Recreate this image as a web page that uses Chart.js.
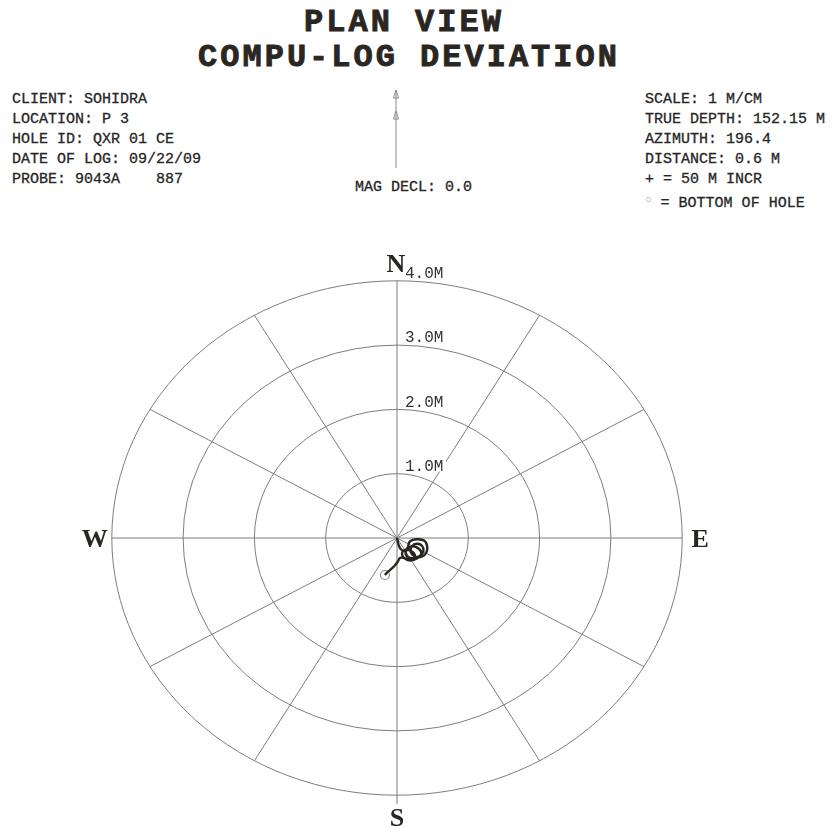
<!DOCTYPE html>
<html>
<head>
<meta charset="utf-8">
<script src="https://cdn.jsdelivr.net/npm/chart.js@4.4.1/dist/chart.umd.min.js"></script>
<style>
  body { margin: 0; background: #fff; width: 834px; height: 827px; overflow: hidden; position: relative; }
  #plan { position: absolute; left: 0; top: 0; }
  .txt { position: absolute; font-family: 'Courier New', 'Liberation Mono', monospace; color: #262626; white-space: pre; }
  .title { font-weight: bold; font-size: 32px; letter-spacing: 3px; color: #2a2622; -webkit-text-stroke: 0.9px #2a2622; left: 0; width: 834px; text-align: center; line-height: 36px; }
  .info { font-size: 15px; line-height: 20px; -webkit-text-stroke: 0.3px #262626; }
  .boh { color: #999; font-size: 11px; vertical-align: 4px; -webkit-text-stroke: 0; }
</style>
</head>
<body>
<div class="txt title" style="top:5px; left:-13px;">PLAN VIEW</div>
<div class="txt title" style="top:40px; left:-8px;">COMPU-LOG DEVIATION</div>

<div class="txt info" style="left:12px; top:90px;">CLIENT: SOHIDRA
LOCATION: P 3
HOLE ID: QXR 01 CE
DATE OF LOG: 09/22/09
PROBE: 9043A    887</div>

<div class="txt info" style="left:355px; top:178px;">MAG DECL: 0.0</div>

<div class="txt info" style="left:645px; top:90px;">SCALE: 1 M/CM
TRUE DEPTH: 152.15 M
AZIMUTH: 196.4
DISTANCE: 0.6 M
+ = 50 M INCR
<span class="boh">○</span> = BOTTOM OF HOLE</div>

<canvas id="plan" width="834" height="827"></canvas>
<script>
// rings (metres) and their labels
var ringValues = [1, 2, 3, 4];
var ringLabels = ['1.0M', '2.0M', '3.0M', '4.0M'];
// radial lines every 30 degrees
var spokeAngles = [0, 30, 60, 90, 120, 150, 180, 210, 240, 270, 300, 330];
var compassLetters = ['N', 'E', 'S', 'W'];
var compassAngles = [0, 90, 180, 270];

// hole trace, metres east / north of the collar
var traceEast  = [0, 0.01, 0.02, 0.05, 0.10, 0.15, 0.17, 0.22, 0.30, 0.38, 0.42, 0.42, 0.38, 0.31, 0.24, 0.19, 0.21, 0.28, 0.35, 0.37, 0.33, 0.25, 0.16, 0.12, 0.15, 0.23, 0.31, 0.34, 0.28, 0.19, 0.11, 0.07, 0.10, 0.17, 0.24, 0.25, 0.18, 0.09, 0.04, 0.01, -0.04, -0.10, -0.15];
var traceNorth = [0, -0.05, -0.10, -0.17, -0.20, -0.15, -0.07, -0.03, -0.02, -0.04, -0.11, -0.20, -0.27, -0.30, -0.28, -0.21, -0.13, -0.09, -0.12, -0.20, -0.27, -0.31, -0.30, -0.23, -0.16, -0.13, -0.17, -0.25, -0.32, -0.35, -0.32, -0.25, -0.19, -0.19, -0.24, -0.31, -0.34, -0.31, -0.31, -0.37, -0.44, -0.50, -0.55];

// bottom of hole from the header values
var bohDistance = 0.6;
var bohAzimuth = 196.4;
var bohEast = bohDistance * Math.sin(bohAzimuth * Math.PI / 180);
var bohNorth = bohDistance * Math.cos(bohAzimuth * Math.PI / 180);

var tracePts = traceEast.map(function (e, i) { return { x: e, y: traceNorth[i] }; });
tracePts.push({ x: bohEast, y: bohNorth });

var gridColor = '#7d7d7d';
var monoFont = "'Courier New', 'Liberation Mono', monospace";

// polar grid, labels and north arrow, drawn under the trace
var planGrid = {
    id: 'planGrid',
    beforeDatasetsDraw: function (chart) {
        var ctx = chart.ctx;
        var xs = chart.scales.x, ys = chart.scales.y;
        var cx = xs.getPixelForValue(0), cy = ys.getPixelForValue(0);
        var outer = ringValues[ringValues.length - 1];
        var orx = xs.getPixelForValue(outer) - cx;
        var ory = cy - ys.getPixelForValue(outer);
        ctx.save();
        ctx.strokeStyle = gridColor;
        ctx.lineWidth = 1;

        ringValues.forEach(function (r) {
            var rx = xs.getPixelForValue(r) - cx;
            var ry = cy - ys.getPixelForValue(r);
            ctx.beginPath();
            ctx.ellipse(cx, cy, rx, ry, 0, 0, Math.PI * 2);
            ctx.stroke();
        });

        spokeAngles.forEach(function (a) {
            var t = a * Math.PI / 180;
            ctx.beginPath();
            ctx.moveTo(cx, cy);
            ctx.lineTo(cx + orx * Math.sin(t), cy - ory * Math.cos(t));
            ctx.stroke();
        });
        // south line runs a little past the outer ring
        ctx.beginPath();
        ctx.moveTo(cx, cy + ory);
        ctx.lineTo(cx, cy + ory + 9);
        ctx.stroke();

        // ring labels on a white patch
        ctx.font = '16px ' + monoFont;
        ctx.textBaseline = 'middle';
        ctx.textAlign = 'left';
        ringValues.forEach(function (r, i) {
            var top = ys.getPixelForValue(r);
            ctx.fillStyle = '#fff';
            ctx.fillRect(cx + 7, top - 17, 42, 15);
            ctx.fillStyle = '#333';
            ctx.fillText(ringLabels[i], cx + 8, top - 7);
        });

        // compass letters
        ctx.font = 'bold 26px "Liberation Serif", serif';
        ctx.fillStyle = '#2a2622';
        ctx.textAlign = 'center';
        var offs = [18, 18, 22, 17];
        compassLetters.forEach(function (l, i) {
            var t = compassAngles[i] * Math.PI / 180;
            var d = offs[i];
            var px = cx + (orx + d) * Math.sin(t);
            var py = cy - (ory + d) * Math.cos(t);
            if (l === 'N') { px -= 1; }
            ctx.fillText(l, px, py + 2);
        });

        // north arrow above the plot
        var ax = cx - 1;
        ctx.strokeStyle = '#8a8a8a';
        ctx.beginPath();
        ctx.moveTo(ax, 90);
        ctx.lineTo(ax, 168);
        ctx.stroke();
        [90, 111].forEach(function (y) {
            ctx.beginPath();
            ctx.moveTo(ax, y);
            ctx.lineTo(ax - 2.5, y + 8);
            ctx.lineTo(ax + 2.5, y + 8);
            ctx.closePath();
            ctx.stroke();
        });
        ctx.restore();
    }
};

new Chart(document.getElementById('plan'), {
    type: 'scatter',
    data: {
        datasets: [{
            label: 'Trace',
            data: tracePts,
            showLine: true,
            borderColor: '#2b2520',
            borderWidth: 2.4,
            pointRadius: 0,
            tension: 0.3
        }, {
            label: 'Bottom of hole',
            data: [{ x: bohEast, y: bohNorth }],
            pointRadius: 4.5,
            borderColor: '#8a8a8a',
            backgroundColor: '#fff',
            borderWidth: 1.2
        }]
    },
    options: {
        responsive: false,
        animation: false,
        layout: { padding: { left: 76.15, right: 116.15, top: 255.08, bottom: 6.08 } },
        plugins: { legend: { display: false }, tooltip: { enabled: false } },
        scales: {
            x: { type: 'linear', min: -4.5, max: 4.5, display: false },
            y: { type: 'linear', min: -4.4, max: 4.4, display: false }
        }
    },
    plugins: [planGrid]
});
</script>
</body>
</html>
